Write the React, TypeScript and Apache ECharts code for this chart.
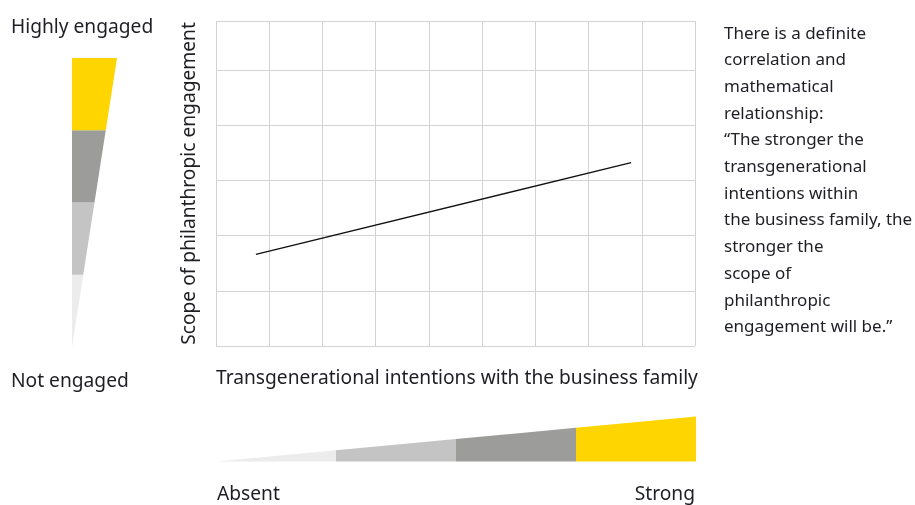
import React, { useEffect, useRef } from "react";
import * as echarts from "echarts";

const lineX = [0.75, 7.8];
const lineY = [1.66, 3.32];
const xMax = 9;
const yMax = 5.886;

const yAxisTitle = "Scope of philanthropic engagement";
const xAxisTitle = "Transgenerational intentions with the business family";
const topLabel = "Highly engaged";
const bottomLabel = "Not engaged";
const leftLabel = "Absent";
const rightLabel = "Strong";
const noteLines = [
  "There is a definite",
  "correlation and",
  "mathematical",
  "relationship:",
  "\u201cThe stronger the",
  "transgenerational",
  "intentions within",
  "the business family, the",
  "stronger the",
  "scope of",
  "philanthropic",
  "engagement will be.\u201d",
];
const levelColors = ["#ececec", "#c4c4c4", "#9c9c9a", "#ffd500"];

const FONT = "'Noto Sans'";
const TXT = "#1e1e24";
const BIG = 19.2;
const SMALL = 17;

export default function App() {
  const ref = useRef<HTMLDivElement>(null);
  useEffect(() => {
    const chart = echarts.init(ref.current!, null, { renderer: "svg" });

    const graphics: any[] = [];
    // vertical wedge (left)
    const vx = 72, vTop = 58, vBot = 347, vW = 45;
    const vSeg = (vBot - vTop) / 4;
    levelColors.forEach((c, i) => {
      const yb = vBot - i * vSeg;
      const yt = vBot - (i + 1) * vSeg;
      const wb = (vW * (vBot - yb)) / (vBot - vTop);
      const wt = (vW * (vBot - yt)) / (vBot - vTop);
      graphics.push({
        type: "polygon",
        shape: { points: [[vx, yb], [vx + wb, yb], [vx + wt, yt], [vx, yt]] },
        style: { fill: c },
      });
    });
    // horizontal wedge (bottom)
    const hx0 = 216, hx1 = 696, hBase = 461.5, hH = 45;
    const hSeg = (hx1 - hx0) / 4;
    levelColors.forEach((c, i) => {
      const xl = hx0 + i * hSeg;
      const xr = hx0 + (i + 1) * hSeg;
      const hl = (hH * (xl - hx0)) / (hx1 - hx0);
      const hr = (hH * (xr - hx0)) / (hx1 - hx0);
      graphics.push({
        type: "polygon",
        shape: { points: [[xl, hBase], [xr, hBase], [xr, hBase - hr], [xl, hBase - hl]] },
        style: { fill: c },
      });
    });
    const txt = (text: string, x: number, y: number, size: number, align = "left") => ({
      type: "text",
      x,
      y,
      style: { text, fill: TXT, font: `${size}px ${FONT}`, textAlign: align, textVerticalAlign: "middle" },
    });
    graphics.push(txt(topLabel, 11, 25, BIG));
    graphics.push(txt(bottomLabel, 11, 379, BIG));
    graphics.push(txt(leftLabel, 217, 492, BIG));
    graphics.push(txt(rightLabel, 695, 492, BIG, "right"));
    graphics.push(txt(xAxisTitle, 216, 376, BIG));
    noteLines.forEach((l, i) => graphics.push(txt(l, 724, 32 + i * 26.7, SMALL)));

    chart.setOption({
      animation: false,
      grid: { left: 216, right: 220, top: 21, bottom: 159 },
      xAxis: {
        type: "value",
        min: 0,
        max: xMax,
        interval: 1,
        axisLine: { show: false },
        axisTick: { show: false },
        axisLabel: { show: false },
        splitLine: { show: true, lineStyle: { color: "#d3d3d3", width: 1 } },
      },
      yAxis: {
        type: "value",
        min: 0,
        max: yMax,
        interval: 1,
        axisLine: { show: false },
        axisTick: { show: false },
        axisLabel: { show: false },
        splitLine: { show: true, lineStyle: { color: "#d3d3d3", width: 1 } },
        name: yAxisTitle,
        nameLocation: "middle",
        nameRotate: 90,
        nameGap: 19,
        nameTextStyle: { fontFamily: "Noto Sans", fontSize: BIG, color: TXT },
      },
      series: [
        {
          type: "line",
          data: lineX.map((x, i) => [x, lineY[i]]),
          symbol: "none",
          lineStyle: { color: "#111", width: 1.3 },
        },
      ],
      graphic: graphics,
    });
    return () => chart.dispose();
  }, []);
  return <div ref={ref} style={{ position: "fixed", left: 0, top: 0, width: 915, height: 505 }} />;
}
